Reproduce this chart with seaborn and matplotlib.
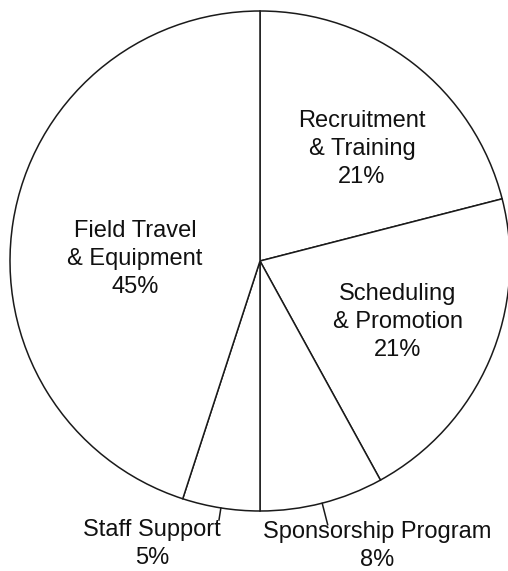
import matplotlib
matplotlib.use('Agg')
import matplotlib.pyplot as plt
import seaborn as sns
import numpy as np

# slices, clockwise from 12 o'clock
categories = ['Recruitment\n& Training', 'Scheduling\n& Promotion', 'Sponsorship Program',
              'Staff Support', 'Field Travel\n& Equipment']
shares = [21, 21, 8, 5, 45]

sns.set_theme(style='white')
plt.rcParams['font.family'] = ['Liberation Sans', 'DejaVu Sans']

fig = plt.figure(figsize=(5.08, 5.71), dpi=100)
ax = fig.add_axes([0, 0, 1, 1])

wedges, _ = ax.pie(shares, startangle=90, counterclock=False, radius=1.0,
                   colors=['white'] * len(shares),
                   wedgeprops=dict(edgecolor='#1a1a1a', linewidth=1.1))

# pixel geometry: center (260, 261), radius 250
ax.set_xlim(-260 / 250, 248 / 250)
ax.set_ylim((261 - 571) / 250, 261 / 250)
ax.set_aspect('auto')
ax.axis('off')


def px(x, y):
    return (x - 260) / 250, (261 - y) / 250


fs = 17
# label centres in pixels, leader length for the thin slices
label_pos = {0: (362, 149), 1: (398, 322), 2: (377, 546), 3: (152, 544), 4: (135, 259)}
leaders = {2: 1.09, 3: 1.05}

for i, (lx, ly) in label_pos.items():
    if i in leaders:
        w = wedges[i]
        mid = np.deg2rad((w.theta1 + w.theta2) / 2)
        r2 = leaders[i]
        ax.plot([np.cos(mid), r2 * np.cos(mid)], [np.sin(mid), r2 * np.sin(mid)],
                color='#1a1a1a', lw=1.1)
    tx, ty = px(lx, ly)
    ax.text(tx, ty, f'{categories[i]}\n{shares[i]}%', ha='center', va='center',
            fontsize=fs, color='#111111', linespacing=1.35)

fig.savefig('out.png', dpi=100)
